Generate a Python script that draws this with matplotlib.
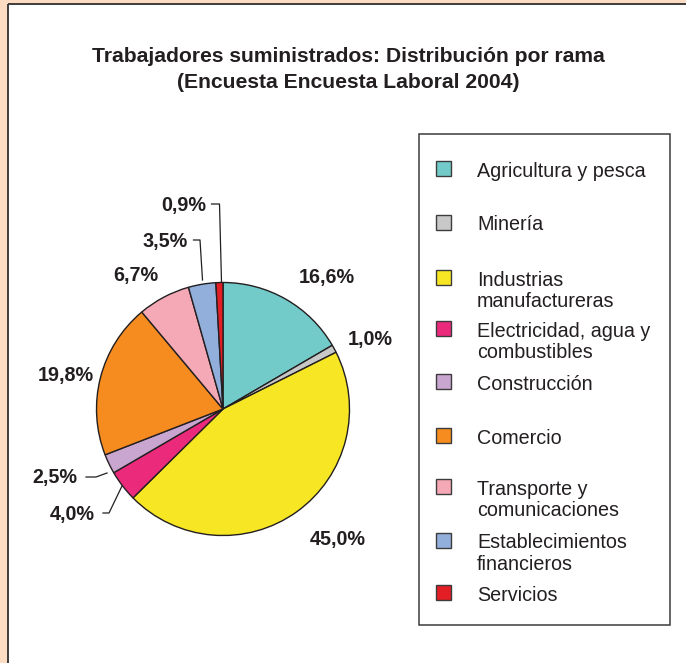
import matplotlib
matplotlib.use("Agg")
import matplotlib.pyplot as plt
from matplotlib.patches import Rectangle

categories = ["Agricultura y pesca", "Minería", "Industrias\nmanufactureras",
              "Electricidad, agua y\ncombustibles", "Construcción", "Comercio",
              "Transporte y\ncomunicaciones", "Establecimientos\nfinancieros", "Servicios"]
values = [16.6, 1.0, 45.0, 4.0, 2.5, 19.8, 6.7, 3.5, 0.9]
value_labels = ["16,6%", "1,0%", "45,0%", "4,0%", "2,5%", "19,8%", "6,7%", "3,5%", "0,9%"]
colors = ["#72CBC9", "#C8C8C8", "#F7E623", "#EC2A7B", "#C9A6D0",
          "#F68B20", "#F5A9B6", "#92AEDB", "#E31E24"]
title_lines = ["Trabajadores suministrados: Distribución por rama",
               "(Encuesta Encuesta Laboral 2004)"]

W, H = 686, 663
TXT = "#231f20"
fig = plt.figure(figsize=(W / 100, H / 100), dpi=100)
fig.patch.set_facecolor("#FDDCC4")
ax = fig.add_axes([0, 0, 1, 1])


def Y(y):
    return H - y


# white panel with dark top/left edge
ax.add_patch(Rectangle((7.5, 0), W - 7.5, Y(3.5), facecolor="white", edgecolor="none", zorder=0))
ax.plot([7.5, 7.5], [0, Y(3.5)], color="#3c3c3c", lw=1.4, solid_capstyle="butt", zorder=1)
ax.plot([7.5, W], [Y(3.5), Y(3.5)], color="#3c3c3c", lw=1.4, solid_capstyle="butt", zorder=1)

# title
for i, line in enumerate(title_lines):
    ax.text(348, Y(61.5 + 26 * i), line, ha="center", va="baseline",
            fontsize=15.2, fontweight="bold", family="Liberation Sans", color=TXT)

# pie
cx, cy, R = 223, 409, 126.5
ax.pie(values, colors=colors, startangle=90, counterclock=False,
       center=(cx, Y(cy)), radius=R, frame=True,
       wedgeprops=dict(edgecolor=TXT, linewidth=1.0))
ax.set_xlim(0, W)
ax.set_ylim(0, H)
ax.set_aspect("equal")
ax.axis("off")

# value labels (center x, baseline y)
label_pos = [(327, 283), (370, 345), (338, 545), (72, 520), (55, 483),
             (66, 381), (136, 281), (165, 247.5), (183.5, 211)]
for (x, y), t in zip(label_pos, value_labels):
    ax.text(x, Y(y), t, ha="center", va="baseline", fontsize=14.2,
            fontweight="bold", family="Liberation Sans", color=TXT)

# leader lines
leaders = [
    [(103, 513), (109, 513), (122, 486)],
    [(86, 477), (96, 477), (107, 473)],
    [(193.5, 240), (200, 240), (202.5, 280)],
    [(211.5, 204), (219.5, 204), (221.5, 282)],
]
for pts in leaders:
    ax.plot([p[0] for p in pts], [Y(p[1]) for p in pts], color=TXT, lw=0.9, zorder=3)

# legend box
ax.add_patch(Rectangle((418.5, Y(624.5)), 251, 491, facecolor="white",
                       edgecolor="#3c3c3c", lw=1.1, zorder=2))
marker_top = [161, 214.5, 269.5, 321, 374, 427.5, 479, 532.5, 585]
for mt, c, lab in zip(marker_top, colors, categories):
    ax.add_patch(Rectangle((436, Y(mt + 15)), 15, 15, facecolor=c,
                           edgecolor="#3c3c3c", lw=1.0, zorder=3))
    for j, part in enumerate(lab.split("\n")):
        ax.text(477, Y(mt + 16 + 21.5 * j), part, ha="left", va="baseline",
                fontsize=14.2, family="Liberation Sans", color=TXT, zorder=3)

fig.savefig("out.png", dpi=100, facecolor=fig.get_facecolor())
